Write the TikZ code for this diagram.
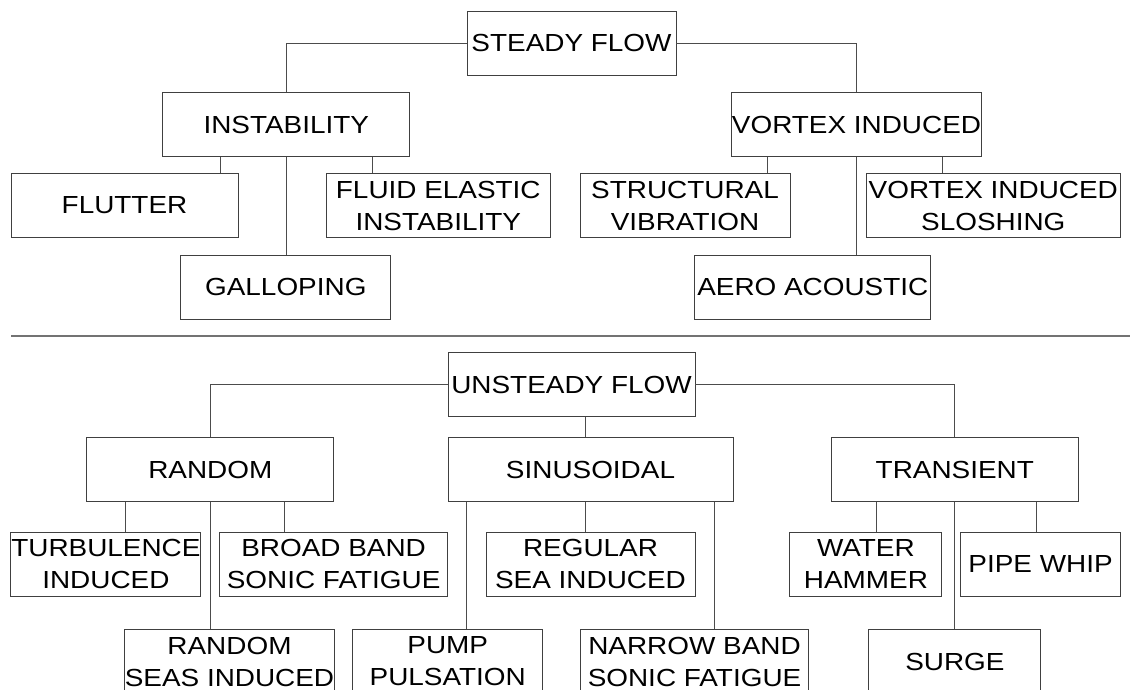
\documentclass[tikz,border=0pt]{standalone}
\usepackage{fontspec}
\setmainfont{Liberation Sans}[FakeStretch=1.13]
\begin{document}
\begin{tikzpicture}[x=1pt, y=-1pt,
    block/.style={draw=black!75, line width=0.9pt, rectangle, inner sep=0pt, minimum height=64pt, align=center, font=\fontsize{24.7}{32}\selectfont},
    link/.style={draw=black!70, line width=0.9pt}]
\useasboundingbox (0,0) rectangle (1132,690);

% steady flow
\node[block, minimum width=209pt] (steady) at (571.5, 43) {STEADY FLOW};

\node[block, minimum width=247pt] (instab) at (286.3, 124.5) {INSTABILITY};
\node[block, minimum width=247pt] (vortex) at (856.5, 124.5) {VORTEX INDUCED};

\node[block, minimum width=227pt] (flutter) at (124.5, 205.5) {FLUTTER};
\node[block, minimum width=224pt] (fluid) at (438.3, 205.5) {FLUID ELASTIC\\INSTABILITY};
\node[block, minimum width=210pt] (galloping) at (285.8, 287) {GALLOPING};

\node[block, minimum width=210pt] (structural) at (685, 205.5) {STRUCTURAL\\VIBRATION};
\node[block, minimum width=254pt] (sloshing) at (993.3, 205.5) {VORTEX INDUCED\\SLOSHING};
\node[block, minimum width=236pt] (aero) at (812.8, 287) {AERO ACOUSTIC};

\draw[link] (steady.west) -| (instab.north);
\draw[link] (steady.east) -| (vortex.north);

\draw[link] ([xshift=-66pt]instab.south) coordinate (c) -- (c |- flutter.north);
\draw[link] ([xshift=86pt]instab.south) coordinate (c) -- (c |- fluid.north);
\draw[link] (instab.south) -- (instab.south |- galloping.north);

\draw[link] ([xshift=-89.5pt]vortex.south) coordinate (c) -- (c |- structural.north);
\draw[link] ([xshift=85.5pt]vortex.south) coordinate (c) -- (c |- sloshing.north);
\draw[link] (vortex.south) -- (vortex.south |- aero.north);

% divider
\draw[black!55, line width=1.5pt] (11,336) -- (1130,336);

% unsteady flow
\node[block, minimum width=247pt] (unsteady) at (571.5, 384.5) {UNSTEADY FLOW};

\node[block, minimum width=247pt] (random) at (210.3, 469.5) {RANDOM};
\node[block, minimum width=285pt] (sinus) at (590.5, 469.5) {SINUSOIDAL};
\node[block, minimum width=247pt] (transient) at (954.8, 469.5) {TRANSIENT};

\node[block, minimum width=190pt] (turb) at (105.9, 564) {TURBULENCE\\INDUCED};
\node[block, minimum width=228pt] (broad) at (333.6, 564) {BROAD BAND\\SONIC FATIGUE};
\node[block, minimum width=209pt] (seas) at (229.5, 661.5) {RANDOM\\SEAS INDUCED};

\node[block, minimum width=209pt] (regular) at (590.5, 564) {REGULAR\\SEA INDUCED};
\node[block, minimum width=190pt] (pump) at (447.7, 661.5) {PUMP\\PULSATION};
\node[block, minimum width=228pt] (narrow) at (694.5, 661.5) {NARROW BAND\\SONIC FATIGUE};

\node[block, minimum width=152pt] (water) at (865.9, 564) {WATER\\HAMMER};
\node[block, minimum width=160pt] (pipe) at (1040.6, 564) {PIPE WHIP};
\node[block, minimum width=172pt] (surge) at (954.9, 661.5) {SURGE};

\draw[link] (unsteady.west) -| (random.north);
\draw[link] (unsteady.east) -| (transient.north);
\draw[link] ([xshift=-5.5pt]sinus.north) coordinate (c) -- (c |- unsteady.south);

\draw[link] ([xshift=-85pt]random.south) coordinate (c) -- (c |- turb.north);
\draw[link] ([xshift=74pt]random.south) coordinate (c) -- (c |- broad.north);
\draw[link] (random.south) -- (random.south |- seas.north);

\draw[link] ([xshift=-124pt]sinus.south) coordinate (c) -- (c |- pump.north);
\draw[link] ([xshift=-5.5pt]sinus.south) coordinate (c) -- (c |- regular.north);
\draw[link] ([xshift=123.5pt]sinus.south) coordinate (c) -- (c |- narrow.north);

\draw[link] ([xshift=-78pt]transient.south) coordinate (c) -- (c |- water.north);
\draw[link] ([xshift=82pt]transient.south) coordinate (c) -- (c |- pipe.north);
\draw[link] (transient.south) -- (transient.south |- surge.north);
\end{tikzpicture}
\end{document}
